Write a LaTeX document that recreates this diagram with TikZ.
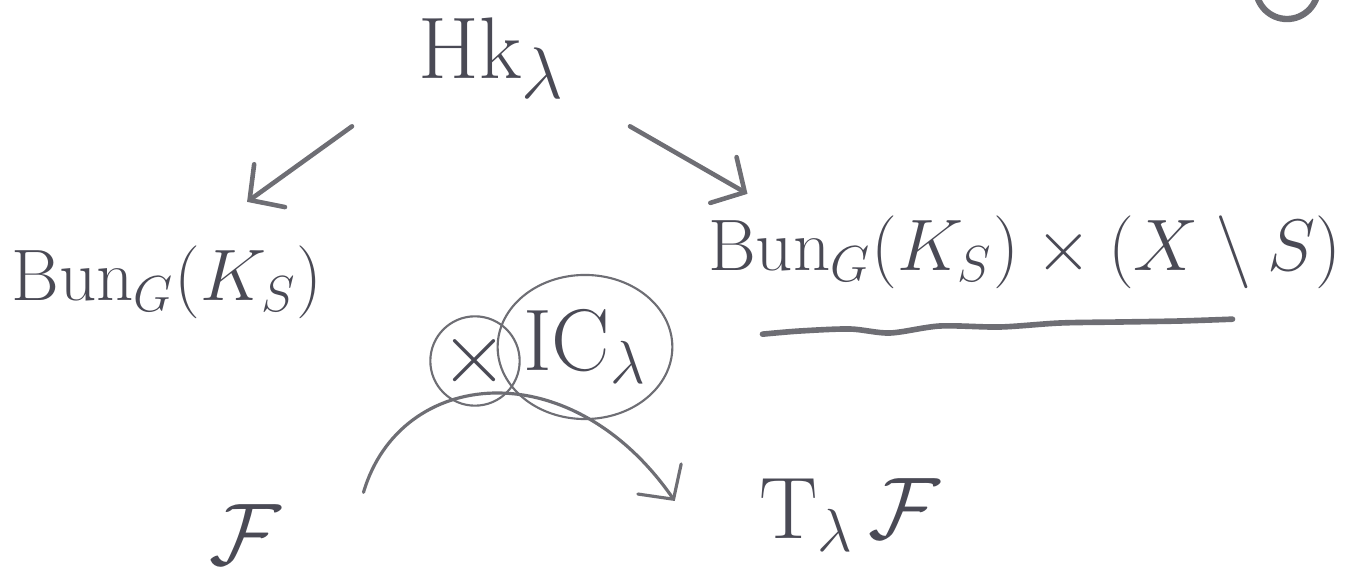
\documentclass[tikz,border=0pt]{standalone}
\usetikzlibrary{arrows.meta,calc,shapes.geometric}
\definecolor{ink}{HTML}{4A4A55}
\definecolor{pencil}{HTML}{6E6E74}
\begin{document}
\begin{tikzpicture}[x=0.01cm,y=-0.01cm,
  lbl/.style={text=ink,font=\fontsize{22}{26}\selectfont,inner sep=0pt},
  arr/.style={draw=pencil,line width=1.3pt,line cap=round,-{Straight Barb[length=7pt,width=15pt,line cap=round]}},
  thin/.style={draw=pencil,line width=0.6pt},
]
\useasboundingbox (0,0) rectangle (1359,582);
\clip (0,0) rectangle (1359,582);
\fill[white] (0,0) rectangle (1359,582);

% nodes
\node[lbl,font=\fontsize{28}{32}\selectfont] (hk) at (492,58) {$\mathrm{Hk}_\lambda$};
\node[lbl] (bl) at (167,282) {$\mathrm{Bun}_G(K_S)$};
\node[lbl] (br) at (1025,252) {$\mathrm{Bun}_G(K_S)\times(X\setminus S)$};
\node[lbl,thin,ellipse,minimum width=1.66cm,minimum height=1.44cm,font=\fontsize{25}{28}\selectfont] (ic) at (585,347) {$\mathrm{IC}_\lambda$};
\node[lbl,thin,circle,minimum size=0.54cm,font=\fontsize{24}{26}\selectfont] (xc) at (475,361) {$\times$};
\node[lbl,font=\fontsize{25}{28}\selectfont] (f) at (245,535) {$\mathcal{F}$};
\node[lbl,font=\fontsize{25}{28}\selectfont] (tf) at (850,515) {$\mathrm{T}_\lambda\,\mathcal{F}$};
\node[draw=pencil,line width=1.8pt,circle,minimum size=0.62cm,inner sep=0pt] (pg) at (1287,-12) {};

% arrows
\draw[arr] ($(hk.south)+(-140,27)$) -- ($(bl.north east)+(-76,-43)$);
\draw[arr] ($(hk.south)+(138,27)$) -- ($(br.north west)+(40,-21)$);
\draw[arr,line width=0.9pt] ($(f.north east)+(82,-12)$) .. controls (400,368) and (570,350) .. ($(tf.west)+(-84,-14)$);

% wavy underline
\draw[pencil,line width=1.6pt,line cap=round] plot[smooth] coordinates
  {($(br.south west)+(55,45)$) (800,331) (850,329) (890,333) (940,326) (1000,327) (1060,323) (1120,322) (1180,321) ($(br.south east)+(-110,30)$)};
\end{tikzpicture}
\end{document}
